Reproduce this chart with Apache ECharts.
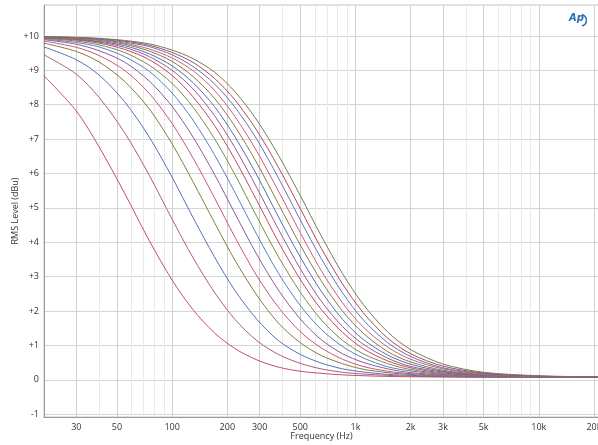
<!DOCTYPE html>
<html><head><meta charset="utf-8">
<script src="https://cdn.jsdelivr.net/npm/echarts@6/dist/echarts.min.js"></script>
<style>html,body{margin:0;padding:0;background:#fff}#c{width:598px;height:445px}</style>
</head><body><div id="c"></div>
<script>
// Frequency sample points (Hz)
const freqs = [20,30,40,55,75,100,130,170,220,290,380,500,650,850,1100,1500,2000,3000,5000,10000,21000];
// RMS level (dBu) of each curve at those frequencies
const curve01 = [8.84,7.82,6.77,5.43,4.05,2.90,2.04,1.37,0.91,0.58,0.37,0.25,0.19,0.145,0.12,0.10,0.09,0.085,0.08,0.08,0.08];
const curve02 = [9.45,8.89,8.21,7.19,5.95,4.67,3.55,2.55,1.76,1.14,0.74,0.48,0.32,0.22,0.17,0.13,0.105,0.09,0.08,0.08,0.08];
const curve03 = [9.68,9.31,8.86,8.09,7.06,5.89,4.72,3.58,2.60,1.76,1.14,0.74,0.49,0.32,0.23,0.16,0.13,0.10,0.085,0.08,0.08];
const curve04 = [9.79,9.55,9.24,8.68,7.88,6.86,5.76,4.58,3.48,2.46,1.65,1.08,0.71,0.47,0.31,0.21,0.155,0.11,0.09,0.08,0.08];
const curve05 = [9.85,9.67,9.43,9.00,8.33,7.45,6.45,5.30,4.15,3.02,2.11,1.40,0.93,0.60,0.39,0.25,0.18,0.125,0.095,0.08,0.08];
const curve06 = [9.89,9.76,9.57,9.24,8.69,7.95,7.06,5.98,4.84,3.64,2.61,1.77,1.17,0.76,0.51,0.32,0.21,0.145,0.10,0.085,0.08];
const curve07 = [9.91,9.81,9.68,9.40,8.97,8.34,7.55,6.55,5.45,4.22,3.10,2.16,1.47,0.97,0.64,0.38,0.26,0.16,0.11,0.085,0.08];
const curve08 = [9.93,9.85,9.74,9.52,9.15,8.62,7.93,7.02,5.97,4.74,3.58,2.55,1.75,1.15,0.76,0.47,0.30,0.18,0.12,0.09,0.08];
const curve09 = [9.94,9.88,9.79,9.61,9.31,8.85,8.23,7.40,6.41,5.21,4.01,2.92,2.05,1.38,0.91,0.55,0.35,0.20,0.13,0.09,0.08];
const curve10 = [9.95,9.90,9.82,9.67,9.40,9.00,8.46,7.69,6.75,5.58,4.38,3.23,2.29,1.55,1.04,0.63,0.39,0.23,0.135,0.09,0.08];
const curve11 = [9.96,9.91,9.84,9.72,9.48,9.13,8.64,7.95,7.07,5.95,4.74,3.57,2.58,1.76,1.18,0.72,0.455,0.25,0.145,0.095,0.08];
const curve12 = [9.97,9.92,9.87,9.76,9.56,9.26,8.82,8.19,7.37,6.30,5.12,3.92,2.88,2.00,1.36,0.82,0.52,0.28,0.155,0.10,0.08];
const curve13 = [9.97,9.93,9.89,9.79,9.62,9.36,8.99,8.42,7.66,6.64,5.49,4.28,3.18,2.24,1.54,0.95,0.60,0.32,0.17,0.10,0.08];
const curve14 = [9.98,9.95,9.90,9.82,9.69,9.45,9.11,8.61,7.93,6.99,5.87,4.65,3.53,2.53,1.75,1.08,0.68,0.35,0.185,0.105,0.085];
const curve15 = [9.98,9.95,9.92,9.85,9.73,9.52,9.23,8.77,8.14,7.25,6.18,4.98,3.83,2.79,1.96,1.21,0.76,0.40,0.20,0.11,0.08];
const curve16 = [9.98,9.96,9.93,9.87,9.77,9.59,9.34,8.95,8.38,7.55,6.53,5.36,4.19,3.09,2.20,1.39,0.88,0.46,0.22,0.12,0.085];
const curves = [curve01,curve02,curve03,curve04,curve05,curve06,curve07,curve08,curve09,curve10,curve11,curve12,curve13,curve14,curve15,curve16];
const colors = ['#c0506a','#b05a80','#5573b5','#857a3f','#c4587a','#8a5a9a','#5a7ec0','#7a8a45',
                '#c04860','#9a5a8a','#4f6fb5','#8a7a40','#c8607a','#5a78b8','#b04858','#6f7f55'];
// Axis ticks
const xMajorTicks = [30,50,100,200,300,500,1000,2000,3000,5000,10000,20000];
const xMinorTicks = [40,60,70,80,90,400,600,700,800,900,4000,6000,7000,8000,9000];
const yTicks = [-1,0,1,2,3,4,5,6,7,8,9,10];
const xMin = 20, xMax = 21300, yMin = -1.08, yMax = 10.9;

const FONT = '"Open Sans", "DejaVu Sans", sans-serif';
const chart = echarts.init(document.getElementById('c'), null, {renderer: 'canvas'});
const lg = Math.log10;
const fmtHz = v => { const f = Math.round(Math.pow(10, v)); return f >= 1000 ? (f/1000) + 'k' : String(f); };

chart.setOption({
  animation: false,
  backgroundColor: '#fff',
  grid: {left: 44, right: -1, top: 5, bottom: 28, outerBoundsMode: 'none', containLabel: false,
         show: true, borderColor: '#c4c4c4', borderWidth: 1, backgroundColor: '#fff'},
  xAxis: [
    {type: 'log', min: xMin, max: xMax, show: false},
    {type: 'value', min: lg(xMin), max: lg(xMax), position: 'bottom',
     name: 'Frequency (Hz)', nameLocation: 'middle', nameGap: 15, nameMoveOverlap: false,
     nameTextStyle: {fontFamily: FONT, fontSize: 9, color: '#333'},
     axisLine: {show: true, lineStyle: {color: '#9a9a9a', width: 1}},
     axisTick: {show: false, customValues: xMajorTicks.map(lg)},
     axisLabel: {customValues: xMajorTicks.map(lg), formatter: fmtHz, fontFamily: FONT, fontSize: 9, color: '#333', margin: 6},
     splitLine: {show: true, lineStyle: {color: '#cfcfcf', width: 1}}},
    {type: 'value', min: lg(xMin), max: lg(xMax), position: 'bottom',
     axisLine: {show: false}, axisLabel: {show: false},
     axisTick: {show: false, customValues: xMinorTicks.map(lg)},
     splitLine: {show: true, lineStyle: {color: '#e9e9e9', width: 1}}}
  ],
  yAxis: [{
    type: 'value', min: yMin, max: yMax,
    name: 'RMS Level (dBu)', nameLocation: 'middle', nameGap: 24, nameRotate: 90, nameMoveOverlap: false,
    nameTextStyle: {fontFamily: FONT, fontSize: 9, color: '#333'},
    axisLine: {show: true, lineStyle: {color: '#9a9a9a', width: 1}},
    axisTick: {show: false, customValues: yTicks},
    axisLabel: {customValues: yTicks, formatter: v => v > 0 ? '+' + v : String(v), fontFamily: FONT, fontSize: 9, color: '#333', margin: 5},
    splitLine: {show: true, lineStyle: {color: '#d6d6d6', width: 1}}
  }],
  graphic: [
    {type: 'text', right: 14, top: 13, z: 100,
     style: {text: 'Ap', font: 'italic bold 10px "DejaVu Sans", sans-serif', fill: '#2a6ab8'}},
    {type: 'arc', right: 9, top: 12, z: 100,
     shape: {cx: 0, cy: 0, r: 6, startAngle: -1.3, endAngle: 1.3},
     style: {stroke: '#2a6ab8', lineWidth: 1.5, fill: null}}
  ],
  series: curves.map((c, k) => ({
    type: 'line', xAxisIndex: 0, yAxisIndex: 0, showSymbol: false, symbol: 'none',
    smooth: 0.3, clip: true,
    lineStyle: {width: 1, color: colors[k]}, itemStyle: {color: colors[k]},
    data: freqs.map((f, i) => [f, c[i]])
  }))
});
</script></body></html>
